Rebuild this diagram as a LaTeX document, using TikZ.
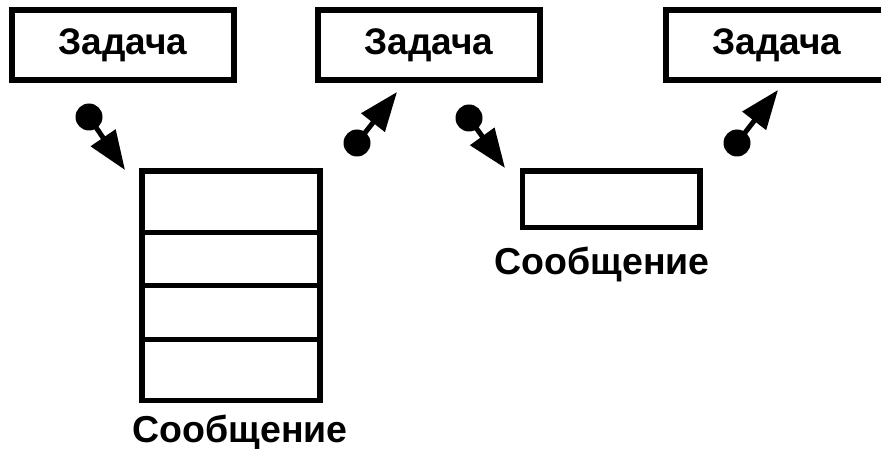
\documentclass[tikz,border=0pt]{standalone}
\usepackage{fontspec}
\setmainfont{Liberation Sans}
\usetikzlibrary{arrows.meta}
\begin{document}
\begin{tikzpicture}[x=1pt,y=-1pt,
  taskbox/.style={draw,line width=6pt,rectangle,inner sep=0pt,minimum width=222pt,minimum height=70pt,font=\fontsize{37}{40}\selectfont\bfseries},
  cell/.style={draw,line width=5.5pt,rectangle,inner sep=0pt,minimum width=178pt},
  lbl/.style={anchor=base,inner sep=0pt,font=\fontsize{37.5}{40}\selectfont\bfseries},
  dotnode/.style={circle,fill=black,inner sep=0pt,minimum size=27pt},
  conn/.style={line width=5pt,-{Triangle[length=39pt,width=29pt]}}]
\useasboundingbox (0,0) rectangle (881,449);
% tasks
\node[taskbox] (t1) at (123,45) {Задача};
\node[taskbox] (t2) at (429,45) {Задача};
\node[taskbox] (t3) at (777,45) {Задача};
% message queue (4 cells)
\node[cell,minimum height=61.5pt] (m1) at (231,201.75) {};
\node[cell,minimum height=53pt] (m2) at (231,259) {};
\node[cell,minimum height=54pt] (m3) at (231,312.5) {};
\node[cell,minimum height=61pt] (m4) at (231,370) {};
\node[lbl] (l1) at (240,442) {Сообщение};
% single message
\node[cell,minimum width=177.5pt,minimum height=56.5pt] (s1) at (611.25,199.25) {};
\node[lbl] (l2) at (602,275) {Сообщение};
% connectors
\node[dotnode] (d1) at (89,117) {};
\coordinate (e1) at (125,170);
\draw[conn] (d1.center) -- (e1);
\node[dotnode] (d2) at (357,143) {};
\coordinate (e2) at (397,92);
\draw[conn] (d2.center) -- (e2);
\node[dotnode] (d3) at (469,118) {};
\coordinate (e3) at (505,168);
\draw[conn] (d3.center) -- (e3);
\node[dotnode] (d4) at (737,143) {};
\coordinate (e4) at (778,90);
\draw[conn] (d4.center) -- (e4);
\end{tikzpicture}
\end{document}
